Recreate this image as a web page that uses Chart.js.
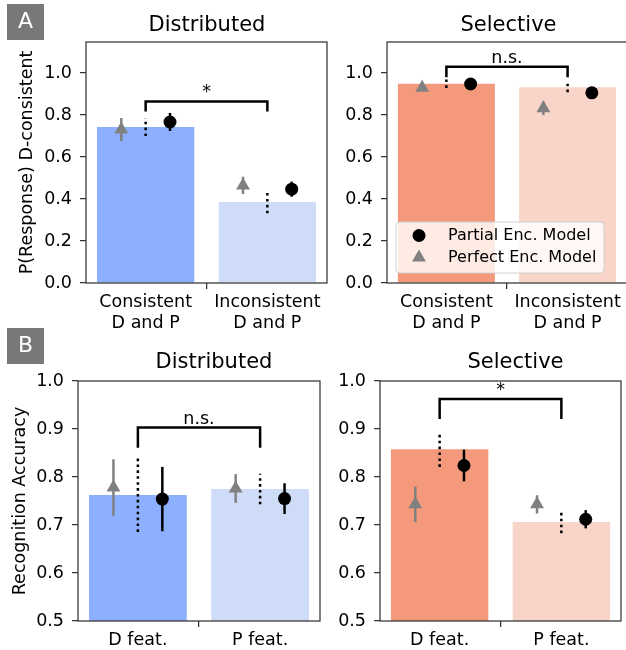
<!DOCTYPE html>
<html>
<head>
<meta charset="utf-8">
<script src="https://cdn.jsdelivr.net/npm/chart.js@4.4.1/dist/chart.umd.min.js"></script>
<style>
  html, body { margin: 0; padding: 0; background: #fff; overflow: hidden; }
  #wrap { position: relative; width: 626px; height: 650px; overflow: hidden; }
  canvas { position: absolute; }
</style>
</head>
<body>
<div id="wrap">
  <canvas id="aDist" width="335" height="330" style="left:0;top:0;width:335px;height:330px"></canvas>
  <canvas id="aSel" width="300" height="330" style="left:335px;top:0;width:300px;height:330px"></canvas>
  <canvas id="bDist" width="335" height="330" style="left:0;top:320px;width:335px;height:330px"></canvas>
  <canvas id="bSel" width="300" height="330" style="left:335px;top:320px;width:300px;height:330px"></canvas>
</div>
<script>
Chart.defaults.font.family = "'DejaVu Sans', sans-serif";
Chart.defaults.color = "#000";

// panel A: P(Response) D-consistent
const labelsA = [["Consistent", "D and P"], ["Inconsistent", "D and P"]];
const yTicksA = [0, 0.2, 0.4, 0.6, 0.8, 1.0];

const distA = [0.743, 0.386];
const distAErr = [0.043, 0.054];
const distAPartial = [0.767, 0.447];
const distAPartialErr = [0.043, 0.036];
const distAPerfect = [0.731, 0.465];
const distAPerfectErr = [0.055, 0.041];
const distABracket = [0.865, 0.817];

const selA = [0.949, 0.933];
const selAErr = [0.02, 0.024];
const selAPartial = [0.948, 0.906];
const selAPartialErr = [0.012, 0.024];
const selAPerfect = [0.93, 0.832];
const selAPerfectErr = [0.01, 0.032];
const selABracket = [1.03, 0.98];

// panel B: recognition accuracy
const labelsB = ["D feat.", "P feat."];
const yTicksB = [0.5, 0.6, 0.7, 0.8, 0.9, 1.0];

const distB = [0.7625, 0.775];
const distBErr = [0.077, 0.032];
const distBPartial = [0.754, 0.755];
const distBPartialErr = [0.067, 0.032];
const distBPerfect = [0.778, 0.776];
const distBPerfectErr = [0.059, 0.03];
const distBBracket = [0.903, 0.861];

const selB = [0.858, 0.706];
const selBErr = [0.037, 0.023];
const selBPartial = [0.824, 0.712];
const selBPartialErr = [0.033, 0.019];
const selBPerfect = [0.743, 0.743];
const selBPerfectErr = [0.037, 0.019];
const selBBracket = [0.9625, 0.921];

const blues = ["#8db0fe", "#cfdcf8"];
const reds = ["#f4997b", "#f8d5c8"];

const FONT = 17.5;

// error bars, frame, bracket, titles, legend
const deco = {
  id: "deco",
  beforeDatasetDraw(chart, args) {
    const ds = chart.data.datasets[args.index];
    if (ds.type !== "scatter") return;
    const ctx = chart.ctx, y = chart.scales.y;
    ctx.save();
    ctx.strokeStyle = ds.errColor;
    ctx.lineWidth = 2.5;
    args.meta.data.forEach((pt, i) => {
      const v = ds.data[i].y, e = ds.err[i];
      ctx.beginPath();
      ctx.moveTo(pt.x, y.getPixelForValue(v - e));
      ctx.lineTo(pt.x, y.getPixelForValue(v + e));
      ctx.stroke();
    });
    ctx.restore();
  },
  afterDatasetDraw(chart, args) {
    const ds = chart.data.datasets[args.index];
    if (ds.type !== "bar") return;
    const ctx = chart.ctx, y = chart.scales.y;
    ctx.save();
    ctx.strokeStyle = "#000";
    ctx.lineWidth = 2.5;
    ctx.setLineDash([2.6, 3.3]);
    args.meta.data.forEach((bar, i) => {
      const v = ds.data[i].y, e = ds.err[i];
      ctx.beginPath();
      ctx.moveTo(bar.x, y.getPixelForValue(v - e));
      ctx.lineTo(bar.x, y.getPixelForValue(v + e));
      ctx.stroke();
    });
    ctx.restore();
  },
  afterDraw(chart, args, o) {
    const ctx = chart.ctx, a = chart.chartArea;
    const xs = chart.scales.x, ys = chart.scales.y;
    ctx.save();

    // bracket
    const x1 = xs.getPixelForValue(0), x2 = xs.getPixelForValue(1);
    const yt = ys.getPixelForValue(o.bracket[0]), yl = ys.getPixelForValue(o.bracket[1]);
    ctx.strokeStyle = "#000";
    ctx.lineWidth = 2.5;
    ctx.beginPath();
    ctx.moveTo(x1, yl);
    ctx.lineTo(x1, yt);
    ctx.lineTo(x2, yt);
    ctx.lineTo(x2, yl);
    ctx.stroke();
    ctx.fillStyle = "#000";
    ctx.font = FONT + "px 'DejaVu Sans'";
    ctx.textAlign = "center";
    ctx.textBaseline = "alphabetic";
    ctx.fillText(o.sig, (x1 + x2) / 2, yt - 4);

    // legend
    if (o.legend) {
      const lx = a.left + 9, lh = 51, ly = a.bottom - 10 - lh, lw = 208;
      ctx.beginPath();
      ctx.roundRect(lx, ly, lw, lh, 4);
      ctx.fillStyle = "rgba(255,255,255,0.8)";
      ctx.fill();
      ctx.strokeStyle = "#d0d0d0";
      ctx.lineWidth = 1;
      ctx.stroke();
      const items = chart.data.datasets.filter(d => d.type === "scatter");
      ctx.font = "16px 'DejaVu Sans'";
      ctx.textAlign = "left";
      ctx.textBaseline = "middle";
      items.forEach((d, i) => {
        const cy = ly + 13.5 + i * 22;
        ctx.fillStyle = d.backgroundColor;
        Chart.helpers.drawPoint(ctx, {pointStyle: d.pointStyle, radius: d.pointRadius, borderWidth: 0}, lx + 23, cy);
        ctx.fillStyle = "#000";
        ctx.fillText(d.label, lx + 52, cy);
      });
    }

    // frame
    ctx.strokeStyle = "#333";
    ctx.lineWidth = 1.25;
    ctx.strokeRect(a.left, a.top, a.right - a.left, a.bottom - a.top);

    // title
    ctx.fillStyle = "#000";
    ctx.font = "21px 'DejaVu Sans'";
    ctx.textAlign = "center";
    ctx.textBaseline = "alphabetic";
    ctx.fillText(o.title.text, o.title.x, o.title.y);

    // panel letter
    if (o.letter) {
      const L = o.letter;
      ctx.fillStyle = "#787878";
      ctx.fillRect(L.x, L.y, 37, 36);
      ctx.fillStyle = "#fff";
      ctx.font = "22px 'DejaVu Sans'";
      ctx.textBaseline = "middle";
      ctx.fillText(L.text, L.x + 18.5, L.y + 18.5);
    }
    ctx.restore();
  }
};

function panel(id, p) {
  const el = document.getElementById(id);
  const W = el.width, H = el.height, a = p.area;
  return new Chart(el, {
    type: "bar",
    data: {
      datasets: [
        {
          type: "bar", label: "Data",
          data: p.bars.map((y, x) => ({x, y})),
          backgroundColor: p.colors,
          barPercentage: 0.8, categoryPercentage: 1,
          order: 2, err: p.barErr,
        },
        {
          type: "scatter", label: "Partial Enc. Model",
          data: p.partial.map((y, i) => ({x: i + 0.2, y})),
          pointStyle: "circle", pointRadius: 6.5, backgroundColor: "#000", borderWidth: 0,
          order: 0, err: p.partialErr, errColor: "#000",
        },
        {
          type: "scatter", label: "Perfect Enc. Model",
          data: p.perfect.map((y, i) => ({x: i - 0.2, y})),
          pointStyle: "triangle", pointRadius: 8, backgroundColor: "#808080", borderWidth: 0,
          order: 1, err: p.perfectErr, errColor: "#808080",
        },
      ],
    },
    options: {
      responsive: false,
      animation: false,
      events: [],
      layout: {padding: {left: 0, top: a.t, right: W - a.r, bottom: 0}},
      plugins: {
        legend: {display: false},
        tooltip: {enabled: false},
        deco: {bracket: p.bracket, sig: p.sig, title: p.title, letter: p.letter, legend: p.legend},
      },
      scales: {
        x: {
          type: "linear", min: -0.49, max: 1.49, offset: false,
          afterFit: s => { s.height = H - a.b; },
          afterBuildTicks: s => { s.ticks = p.labels.map((_, i) => ({value: i})); },
          border: {display: false},
          grid: {drawOnChartArea: false, tickLength: 6, color: "#333", lineWidth: 1.25},
          ticks: {
            font: {size: FONT}, padding: 3, maxRotation: 0, autoSkip: false,
            callback: v => p.labels[v],
          },
        },
        y: {
          type: "linear", min: p.yMin, max: p.yMax,
          afterFit: s => { s.width = a.l; },
          afterBuildTicks: s => { s.ticks = p.yTicks.map(v => ({value: v})); },
          border: {display: false},
          grid: {drawOnChartArea: false, tickLength: 6, color: "#333", lineWidth: 1.25},
          ticks: {font: {size: FONT}, padding: 8, callback: v => v.toFixed(1)},
          title: {
            display: !!p.yTitle, text: p.yTitle, font: {size: FONT},
            padding: {top: p.yTitlePad || 0, bottom: 0},
          },
        },
      },
    },
    plugins: [deco],
  });
}

panel("aDist", {
  area: {l: 86, t: 42, r: 327, b: 283},
  labels: labelsA, yTicks: yTicksA, yMin: 0, yMax: 1.148,
  bars: distA, barErr: distAErr, colors: blues,
  partial: distAPartial, partialErr: distAPartialErr,
  perfect: distAPerfect, perfectErr: distAPerfectErr,
  bracket: distABracket, sig: "*",
  title: {text: "Distributed", x: 207, y: 31},
  letter: {text: "A", x: 7, y: 4},
  yTitle: "P(Response) D-consistent", yTitlePad: 16.5,
});

panel("aSel", {
  area: {l: 52, t: 42, r: 294, b: 283},
  labels: labelsA, yTicks: yTicksA, yMin: 0, yMax: 1.148,
  bars: selA, barErr: selAErr, colors: reds,
  partial: selAPartial, partialErr: selAPartialErr,
  perfect: selAPerfect, perfectErr: selAPerfectErr,
  bracket: selABracket, sig: "n.s.",
  title: {text: "Selective", x: 173.5, y: 31},
  legend: true,
});

panel("bDist", {
  area: {l: 78, t: 61, r: 320, b: 301},
  labels: labelsB, yTicks: yTicksB, yMin: 0.5, yMax: 1.0,
  bars: distB, barErr: distBErr, colors: blues,
  partial: distBPartial, partialErr: distBPartialErr,
  perfect: distBPerfect, perfectErr: distBPerfectErr,
  bracket: distBBracket, sig: "n.s.",
  title: {text: "Distributed", x: 214, y: 48},
  letter: {text: "B", x: 7, y: 8},
  yTitle: "Recognition Accuracy", yTitlePad: 9.5,
});

panel("bSel", {
  area: {l: 45, t: 61, r: 286, b: 301},
  labels: labelsB, yTicks: yTicksB, yMin: 0.5, yMax: 1.0,
  bars: selB, barErr: selBErr, colors: reds,
  partial: selBPartial, partialErr: selBPartialErr,
  perfect: selBPerfect, perfectErr: selBPerfectErr,
  bracket: selBBracket, sig: "*",
  title: {text: "Selective", x: 180.5, y: 48},
});
</script>
</body>
</html>
